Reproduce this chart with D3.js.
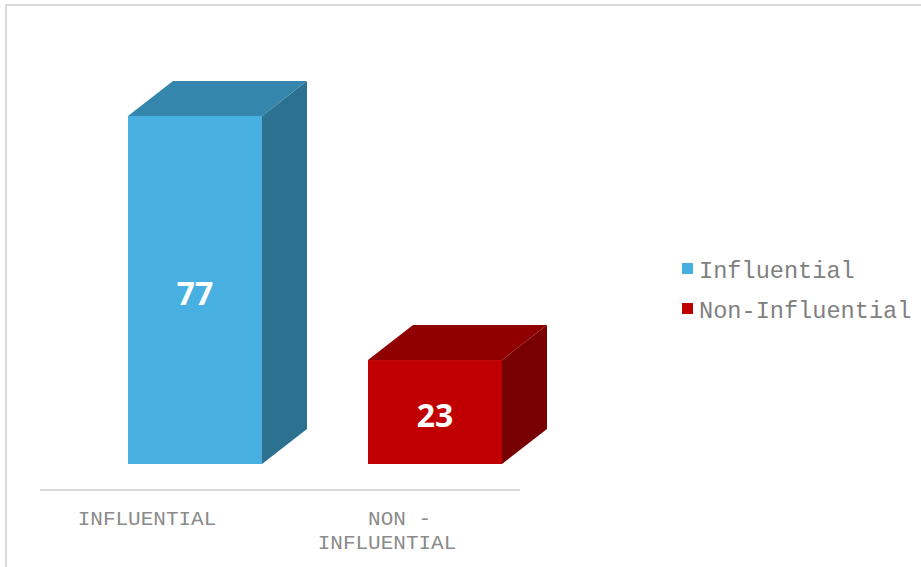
<!DOCTYPE html>
<html>
<head>
<meta charset="utf-8">
<script src="https://cdn.jsdelivr.net/npm/d3@7"></script>
<style>
  html, body { margin: 0; padding: 0; background: #ffffff; }
  svg { display: block; }
</style>
</head>
<body>
<svg id="chart" width="921" height="567"></svg>
<script>
// Share of respondents by category
const categories = ["Influential", "Non-Influential"];
const values = [77, 23];
const axisLabels = [["INFLUENTIAL"], ["  NON -", "INFLUENTIAL"]];
const legendLabels = ["Influential", "Non-Influential"];

// front / top / side shading for each 3D column
const palette = [
  { front: "#47b0e1", top: "#3486ad", side: "#2c7190" },
  { front: "#c00000", top: "#900000", side: "#780000" }
];

const svg = d3.select("#chart");
const W = 921, H = 567;

// outer frame
svg.append("rect")
  .attr("x", 6).attr("y", 5)
  .attr("width", W + 20).attr("height", H + 20)
  .attr("fill", "none")
  .attr("stroke", "#d9d9d9")
  .attr("stroke-width", 2);

const x = d3.scaleBand().domain(categories).range([40, 520]);
const y = d3.scaleLinear().domain([0, 100]).range([464, 12]);

const depthX = 45, depthY = -35;   // oblique projection of the column depth
const barW = 134;
const barShift = 35 - barW / 2;    // front face offset from band centre

const g = svg.append("g");
const bars = g.selectAll("g.bar")
  .data(categories.map((c, i) => ({ c, v: values[i], col: palette[i] })))
  .join("g").attr("class", "bar");

bars.each(function(d) {
  const sel = d3.select(this);
  const x0 = x(d.c) + x.bandwidth() / 2 + barShift;
  const x1 = x0 + barW;
  const yt = y(d.v), yb = y(0);
  // side face
  sel.append("path")
    .attr("d", `M${x1},${yt}L${x1 + depthX},${yt + depthY}L${x1 + depthX},${yb + depthY}L${x1},${yb}Z`)
    .attr("fill", d.col.side);
  // top face
  sel.append("path")
    .attr("d", `M${x0},${yt}L${x0 + depthX},${yt + depthY}L${x1 + depthX},${yt + depthY}L${x1},${yt}Z`)
    .attr("fill", d.col.top);
  // front face
  sel.append("rect")
    .attr("x", x0).attr("y", yt)
    .attr("width", barW).attr("height", yb - yt)
    .attr("fill", d.col.front);
  // value label
  sel.append("text")
    .attr("x", (x0 + x1) / 2)
    .attr("y", (yt + yb) / 2 + 15)
    .attr("text-anchor", "middle")
    .attr("font-family", "'Open Sans', 'Noto Sans', sans-serif")
    .attr("font-weight", "bold")
    .attr("font-size", 32)
    .attr("fill", "#ffffff")
    .text(d.v);
});

// category axis
svg.append("line")
  .attr("x1", x.range()[0]).attr("x2", x.range()[1])
  .attr("y1", 490).attr("y2", 490)
  .attr("stroke", "#d9d9d9").attr("stroke-width", 2);

const monoFont = "'Courier New', 'Liberation Mono', monospace";

categories.forEach((c, i) => {
  const t = svg.append("text")
    .attr("text-anchor", "middle")
    .attr("font-family", monoFont)
    .attr("font-size", 21)
    .attr("fill", "#8a8a8a")
    .style("white-space", "pre");
  axisLabels[i].forEach((line, k) => {
    t.append("tspan")
      .attr("x", x(c) + x.bandwidth() / 2 - 13)
      .attr("y", 525 + k * 24)
      .text(line);
  });
});

// legend
const legend = svg.append("g");
legendLabels.forEach((lab, i) => {
  const ly = 263 + i * 40;
  legend.append("rect")
    .attr("x", 682).attr("y", ly)
    .attr("width", 11).attr("height", 11)
    .attr("fill", palette[i].front);
  legend.append("text")
    .attr("x", 699).attr("y", ly + 15)
    .attr("font-family", monoFont)
    .attr("font-size", 23.6)
    .attr("fill", "#808080")
    .text(lab);
});
</script>
</body>
</html>
